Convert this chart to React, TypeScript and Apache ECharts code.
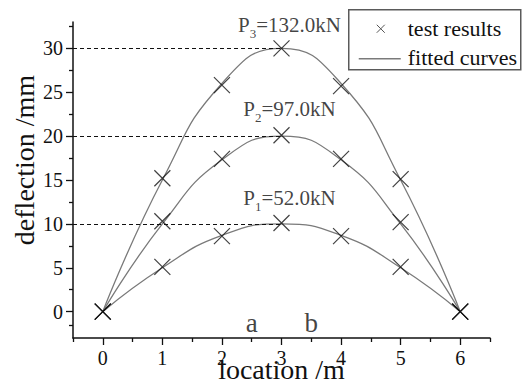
import React, { useEffect, useRef } from 'react';
import * as echarts from 'echarts';

// Measurement positions along the beam (m)
const locations = [0, 1, 2, 3, 4, 5, 6];
// Applied loads (kN) for P1, P2, P3
const loads = [52.0, 97.0, 132.0];
// Measured deflections (mm)
const testP1 = [0, 5.1, 8.6, 10.1, 8.6, 5.1, 0];
const testP2 = [0, 10.3, 17.4, 20.1, 17.4, 10.2, 0];
const testP3 = [0, 15.2, 25.8, 30.0, 25.7, 15.1, 0];
// Fitted deflection curves (mm)
const fitP1 = [0, 5.0, 8.7, 10.0, 8.7, 5.0, 0];
const fitP2 = [0, 10.0, 17.3, 20.0, 17.3, 10.0, 0];
const fitP3 = [0, 15.0, 26.0, 30.0, 26.0, 15.0, 0];
// Peak deflection levels marked with dashed guides
const peakLevels = [10, 20, 30];
const peakLocation = 3;
// Axis ticks
const xTicks = [0, 1, 2, 3, 4, 5, 6];
const xMinorTicks = [-0.5, 0.5, 1.5, 2.5, 3.5, 4.5, 5.5, 6.5];
const yTicks = [0, 5, 10, 15, 20, 25, 30];
const yMinorTicks = [-1.5, 2.5, 7.5, 12.5, 17.5, 22.5, 27.5, 32.5];
// Loading point markers
const spanMarks = ['a', 'b'];
const spanMarkX = [2.5, 3.5];
const spanMarkY = -1.25;

const FONT = '"Liberation Serif", "Times New Roman", "DejaVu Serif", serif';
const INK = '#111111';
const CURVE = '#7a7a7a';

const X_MIN = -0.5;
const X_MAX = 6.5;
const Y_MIN = -3;
const Y_MAX = 33;

const GRID = { left: 73, right: 32, top: 22, bottom: 48, containLabel: false, outerBoundsMode: 'none' };

export default function App() {
  const ref = useRef<HTMLDivElement>(null);

  useEffect(() => {
    document.body.style.margin = '0';
    if (!ref.current) return;
    const chart = echarts.init(ref.current, null, { renderer: 'svg' });

    const tests = [testP1, testP2, testP3];
    const fits = [fitP1, fitP2, fitP3];
    const labelDistance = [11, 12, 8];

    const crossSymbol = 'path://M0,0L10,10M10,0L0,10';

    const series: any[] = [];

    fits.forEach((fit, i) => {
      series.push({
        name: 'fitted curves',
        type: 'line',
        xAxisIndex: 0,
        yAxisIndex: 0,
        data: locations.map((x, k) => [x, fit[k]]),
        smooth: 0.5,
        showSymbol: false,
        lineStyle: { color: CURVE, width: 1.3 },
        z: 2,
        markLine: {
          silent: true,
          symbol: 'none',
          label: { show: false },
          lineStyle: { color: INK, type: [4, 3], width: 1 },
          data: [
            [
              { coord: [X_MIN, peakLevels[i]] },
              { coord: [peakLocation, peakLevels[i]] },
            ],
          ],
        },
      });
    });

    tests.forEach((t) => {
      series.push({
        name: 'test results',
        type: 'scatter',
        xAxisIndex: 0,
        yAxisIndex: 0,
        data: locations.map((x, k) => [x, t[k]]),
        symbol: crossSymbol,
        symbolSize: 16,
        itemStyle: { color: 'transparent', borderColor: INK, borderWidth: 1.2 },
        z: 3,
      });
    });

    // Load labels above each peak
    series.push({
      type: 'scatter',
      xAxisIndex: 0,
      yAxisIndex: 0,
      symbolSize: 0,
      silent: true,
      z: 4,
      data: loads.map((p, i) => ({
        value: [peakLocation, peakLevels[i]],
        label: {
          show: true,
          position: 'top',
          distance: labelDistance[i],
          offset: [8, 0],
          formatter: `{p|P}{s|${i + 1}}{p|=${p.toFixed(1)}kN}`,
          rich: {
            p: { fontFamily: FONT, fontSize: 21, color: INK, lineHeight: 30, verticalAlign: 'middle' },
            s: { fontFamily: FONT, fontSize: 13, color: INK, lineHeight: 30, verticalAlign: 'bottom' },
          },
        },
      })),
    });

    // Loading point markers a, b
    series.push({
      type: 'scatter',
      xAxisIndex: 0,
      yAxisIndex: 0,
      symbolSize: 0,
      silent: true,
      z: 4,
      data: spanMarks.map((m, i) => ({
        value: [spanMarkX[i], spanMarkY],
        label: {
          show: true,
          position: 'inside',
          formatter: m,
          fontFamily: FONT,
          fontSize: 27,
          color: INK,
        },
      })),
    });

    const axisText = { fontFamily: FONT, fontSize: 20, color: INK };

    chart.setOption({
      animation: false,
      backgroundColor: '#ffffff',
      grid: [{ ...GRID }, { ...GRID }],
      xAxis: [
        {
          type: 'value',
          gridIndex: 0,
          min: X_MIN,
          max: X_MAX,
          name: 'location /m',
          nameLocation: 'middle',
          nameGap: 17,
          nameMoveOverlap: false,
          nameTextStyle: { fontFamily: FONT, fontSize: 28, color: INK },
          axisLine: { show: true, onZero: false, lineStyle: { color: INK, width: 1.5 } },
          axisTick: { show: true, length: 7, customValues: xTicks, lineStyle: { color: INK, width: 1.3 } },
          axisLabel: { ...axisText, margin: 10, customValues: xTicks },
          splitLine: { show: false },
        },
        {
          type: 'value',
          gridIndex: 1,
          min: X_MIN,
          max: X_MAX,
          axisLine: { show: false, onZero: false },
          axisTick: { show: true, length: 4, customValues: xMinorTicks, lineStyle: { color: INK, width: 1.3 } },
          axisLabel: { show: false },
          splitLine: { show: false },
        },
      ],
      yAxis: [
        {
          type: 'value',
          gridIndex: 0,
          min: Y_MIN,
          max: Y_MAX,
          axisLine: { show: true, onZero: false, lineStyle: { color: INK, width: 1.5 } },
          axisTick: { show: true, length: 7, customValues: yTicks, lineStyle: { color: INK, width: 1.3 } },
          axisLabel: { ...axisText, margin: 10, customValues: yTicks },
          splitLine: { show: false },
        },
        {
          type: 'value',
          gridIndex: 1,
          min: Y_MIN,
          max: Y_MAX,
          axisLine: { show: false, onZero: false },
          axisTick: { show: true, length: 4, customValues: yMinorTicks, lineStyle: { color: INK, width: 1.3 } },
          axisLabel: { show: false },
          splitLine: { show: false },
        },
      ],
      graphic: [
        {
          type: 'text',
          x: 24,
          y: 160,
          rotation: Math.PI / 2,
          style: {
            text: 'deflection /mm',
            fontFamily: FONT,
            fontSize: 28,
            fill: INK,
            align: 'center',
            verticalAlign: 'middle',
          },
        },
        {
          type: 'group',
          left: 348,
          top: 9,
          children: [
            {
              type: 'rect',
              shape: { x: 0, y: 0, width: 172, height: 60 },
              style: { fill: '#ffffff', stroke: '#5a5a5a', lineWidth: 1.5 },
            },
            {
              type: 'line',
              shape: { x1: 28, y1: 15, x2: 36, y2: 23 },
              style: { stroke: '#555', lineWidth: 1 },
            },
            {
              type: 'line',
              shape: { x1: 36, y1: 15, x2: 28, y2: 23 },
              style: { stroke: '#555', lineWidth: 1 },
            },
            {
              type: 'text',
              x: 59,
              y: 19,
              style: { text: 'test results', fontFamily: FONT, fontSize: 22, fill: INK, verticalAlign: 'middle' },
            },
            {
              type: 'line',
              shape: { x1: 10, y1: 49, x2: 52, y2: 49 },
              style: { stroke: CURVE, lineWidth: 1.5 },
            },
            {
              type: 'text',
              x: 59,
              y: 48,
              style: { text: 'fitted curves', fontFamily: FONT, fontSize: 22, fill: INK, verticalAlign: 'middle' },
            },
          ],
        },
      ],
      series,
    });

    return () => chart.dispose();
  }, []);

  return <div ref={ref} style={{ width: 522, height: 386 }} />;
}
